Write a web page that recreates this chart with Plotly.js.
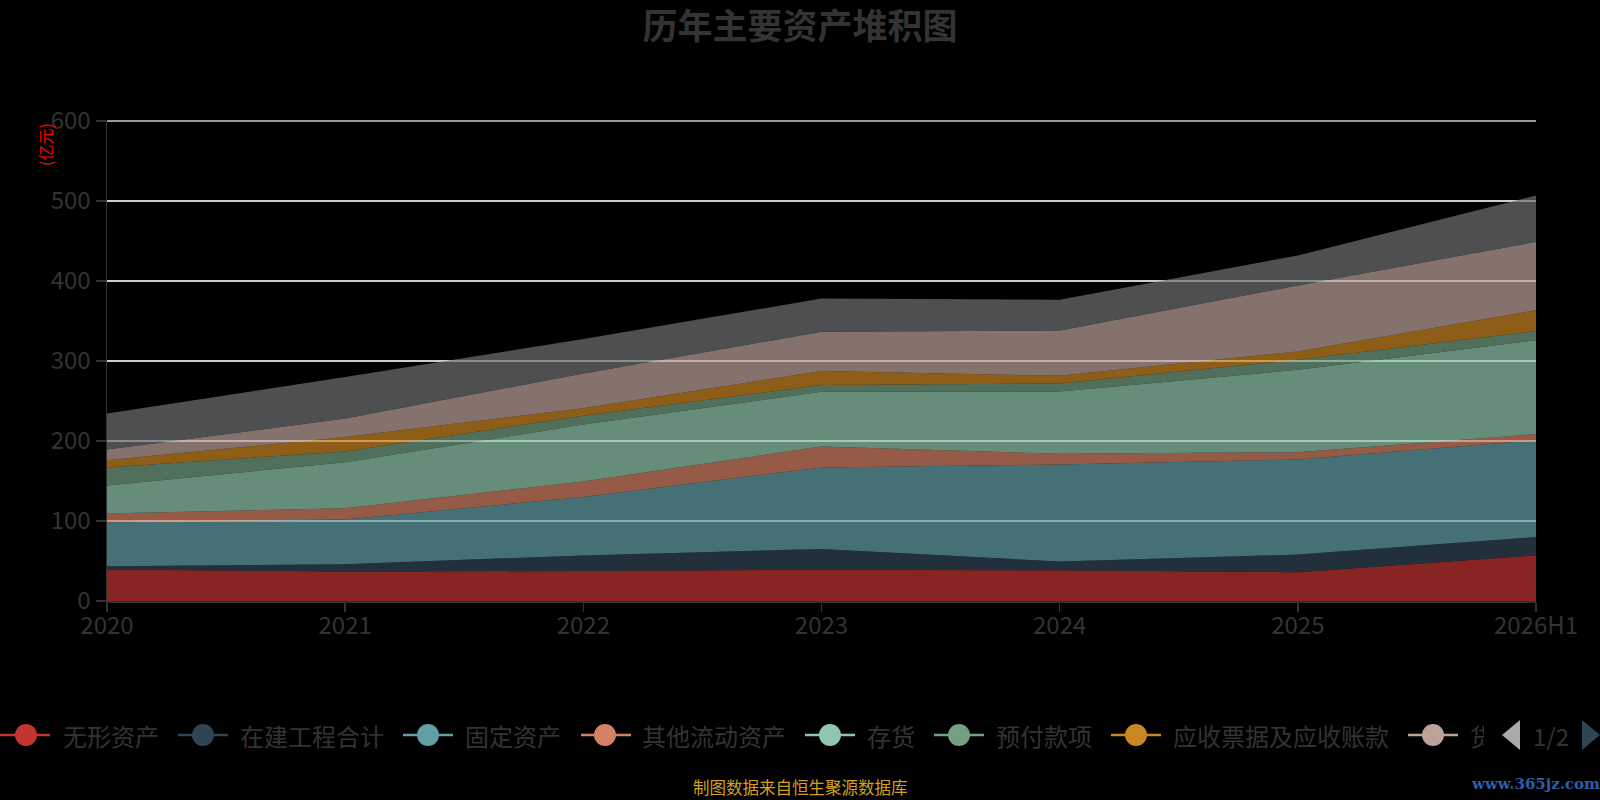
<!DOCTYPE html>
<html>
<head>
<meta charset="utf-8">
<script src="https://cdn.plot.ly/plotly-3.0.1.min.js"></script>
<style>html,body{margin:0;padding:0;background:#000;}#chart{width:1600px;height:800px;}</style>
</head>
<body>
<div id="chart"></div>
<script>
// ---- data ----
var categories = ["2020", "2021", "2022", "2023", "2024", "2025", "2026H1"];
var seriesNames = ["无形资产", "在建工程合计", "固定资产", "其他流动资产", "存货", "预付款项", "应收票据及应收账款", "货币资金", "交易性金融资产"];
var wuxingzichan      = [39.5, 37.0, 37.5, 39.0, 38.5, 36.0, 57.0];
var zaijiangongcheng  = [4.0, 9.0, 19.5, 26.0, 11.0, 22.0, 23.0];
var gudingzichan      = [55.0, 56.0, 73.0, 102.0, 121.0, 119.0, 121.0];
var qitaliudong       = [11.0, 14.0, 19.5, 26.0, 13.5, 9.0, 7.5];
var cunhuo            = [35.0, 57.5, 71.0, 68.5, 78.0, 103.0, 117.5];
var yufukuanxiang     = [22.5, 13.5, 11.0, 8.5, 10.0, 12.5, 11.5];
var yingshou          = [9.0, 18.0, 9.5, 17.5, 9.5, 10.5, 26.0];
var huobizijin        = [13.5, 23.0, 43.5, 49.0, 56.5, 82.5, 85.5];
var jiaoyixing        = [45.0, 52.0, 43.0, 41.5, 38.5, 37.5, 58.0];
var seriesValues = [wuxingzichan, zaijiangongcheng, gudingzichan, qitaliudong, cunhuo, yufukuanxiang, yingshou, huobizijin, jiaoyixing];
var yTickValues = [0, 100, 200, 300, 400, 500, 600];
var legendPage = "1/2";
var titleText = "历年主要资产堆积图";
var unitText = "(亿元)";
var footerText = "制图数据来自恒生聚源数据库";
var watermarkText = "www.365jz.com";

// ---- style ----
var colors = ["#c23531", "#2f4554", "#61a0a8", "#d48265", "#91c7ae", "#749f83", "#ca8622", "#bda29a", "#6e7074"];
function rgba(hex, a) {
  var r = parseInt(hex.substr(1,2),16), g = parseInt(hex.substr(3,2),16), b = parseInt(hex.substr(5,2),16);
  return "rgba(" + r + "," + g + "," + b + "," + a + ")";
}
var FONT = "'Noto Sans CJK SC', 'Noto Sans', sans-serif";
var W = 1600, H = 800, L = 107, R = 64, T = 121, B = 199;
var PW = W - L - R, PH = H - T - B;
function px(x) { return (x - L) / PW; }
function py(y) { return (H - B - y) / PH; }

var traces = seriesValues.map(function (vals, i) {
  return {
    type: "scatter",
    mode: "lines",
    x: categories,
    y: vals,
    name: seriesNames[i],
    stackgroup: "one",
    line: { width: 0, color: colors[i] },
    fillcolor: rgba(colors[i], 0.7),
    showlegend: false,
    hoverinfo: "x+y+name"
  };
});

var shapes = [];
var annotations = [];

// top gridline (at the range edge; paper ref so it is not clipped)
shapes.push({
  type: "line", xref: "paper", yref: "paper", layer: "below",
  x0: 0, x1: 1, y0: 1, y1: 1,
  line: { color: "#cccccc", width: 1.5 }
});

// custom legend (first page: 8 items)
var legendY = 735;
var legendItems = [
  { line0: 0, circle: 26, text: 61 },
  { line0: 178, circle: 203, text: 238 },
  { line0: 403, circle: 428, text: 463 },
  { line0: 581, circle: 605, text: 640 },
  { line0: 805, circle: 830, text: 865 },
  { line0: 934, circle: 959, text: 994 },
  { line0: 1111, circle: 1136, text: 1171 },
  { line0: 1408, circle: 1433, text: 1469 }
];
legendItems.forEach(function (it, i) {
  shapes.push({
    type: "line", xref: "paper", yref: "paper",
    x0: px(it.line0), x1: px(it.line0 + 50), y0: py(legendY), y1: py(legendY),
    line: { color: colors[i], width: 2.5 }
  });
  shapes.push({
    type: "circle", xref: "paper", yref: "paper",
    xsizemode: "pixel", ysizemode: "pixel",
    xanchor: px(it.circle), yanchor: py(legendY),
    x0: -11, x1: 11, y0: -11, y1: 11,
    fillcolor: colors[i], line: { width: 0 }
  });
  var ann = {
    xref: "paper", yref: "paper", x: px(it.text), y: py(legendY),
    xanchor: "left", yanchor: "middle", showarrow: false, align: "left",
    text: seriesNames[i], font: { family: FONT, size: 24, color: "#333" }
  };
  if (i === 7) { ann.width = 14; ann.borderpad = 0; }
  annotations.push(ann);
});
// pager arrows
shapes.push({
  type: "path", xref: "paper", yref: "paper",
  path: "M " + px(1520) + " " + py(720) + " L " + px(1502) + " " + py(735) + " L " + px(1520) + " " + py(750) + " Z",
  fillcolor: "#aaaaaa", line: { width: 0 }
});
shapes.push({
  type: "path", xref: "paper", yref: "paper",
  path: "M " + px(1582) + " " + py(720) + " L " + px(1600) + " " + py(735) + " L " + px(1582) + " " + py(750) + " Z",
  fillcolor: "#2f4554", line: { width: 0 }
});
annotations.push({
  xref: "paper", yref: "paper", x: px(1551), y: py(735),
  xanchor: "center", yanchor: "middle", showarrow: false,
  text: legendPage, font: { family: FONT, size: 24, color: "#333" }
});
// unit label
annotations.push({
  xref: "paper", yref: "paper", x: px(45), y: py(145),
  xanchor: "center", yanchor: "middle", showarrow: false, textangle: -90,
  text: unitText, font: { family: FONT, size: 16, color: "#ff0000" }
});
// footer
annotations.push({
  xref: "paper", yref: "paper", x: px(800), y: py(787),
  xanchor: "center", yanchor: "middle", showarrow: false,
  text: footerText, font: { family: FONT, size: 16.5, color: "#d4a017" }
});
// watermark
annotations.push({
  xref: "paper", yref: "paper", x: px(1535), y: py(784),
  xanchor: "center", yanchor: "middle", showarrow: false,
  text: "<b>" + watermarkText + "</b>", font: { family: "'DejaVu Serif', serif", size: 15, color: "#2d5ea8" }
});

var layout = {
  width: W, height: H,
  paper_bgcolor: "#000", plot_bgcolor: "#000",
  margin: { l: L, r: R, t: T, b: B, pad: 0 },
  title: {
    text: "<b>" + titleText + "</b>",
    xref: "container", x: 0.5, xanchor: "center",
    yref: "container", y: 1 - 27 / H, yanchor: "middle",
    font: { family: FONT, size: 35, color: "#333" }
  },
  showlegend: false,
  xaxis: {
    type: "category",
    categoryorder: "array", categoryarray: categories,
    range: [0, categories.length - 1],
    showgrid: false, zeroline: false,
    showline: true, linecolor: "#333", linewidth: 1.5,
    ticks: "outside", ticklen: 9, tickcolor: "#333", tickwidth: 1.5,
    ticklabelstandoff: -6,
    tickfont: { family: FONT, size: 24, color: "#333" },
    fixedrange: true
  },
  yaxis: {
    range: [0, 600],
    tickvals: yTickValues,
    ticktext: yTickValues.map(String),
    showgrid: true, gridcolor: "#cccccc", gridwidth: 1.5,
    zeroline: false,
    showline: true, linecolor: "#333", linewidth: 1.5,
    ticks: "outside", ticklen: 10, tickcolor: "#333", tickwidth: 1.5,
    tickfont: { family: FONT, size: 24, color: "#333" },
    fixedrange: true
  },
  shapes: shapes,
  annotations: annotations
};

Plotly.newPlot("chart", traces, layout, { displayModeBar: false, staticPlot: true });
</script>
</body>
</html>
